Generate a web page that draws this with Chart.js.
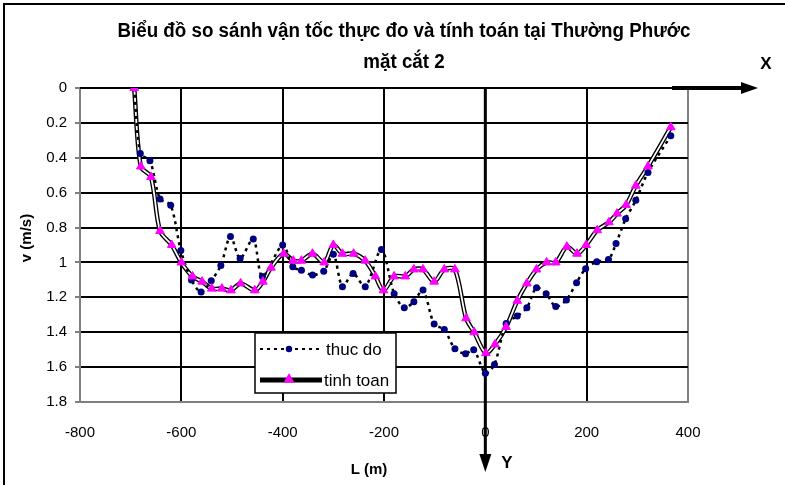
<!DOCTYPE html>
<html>
<head>
<meta charset="utf-8">
<script src="https://cdn.jsdelivr.net/npm/chart.js@4.4.1/dist/chart.umd.min.js"></script>
<style>
  html, body { margin: 0; padding: 0; background: #fff; }
  #wrap { width: 785px; height: 485px; position: relative; }
</style>
</head>
<body>
<div id="wrap"><canvas id="chart" width="785" height="485"></canvas></div>
<script>
// thuc do (measured)
const measX = [-693, -681, -662, -642, -621, -601, -580, -561, -541, -522, -503, -484, -458, -440,
  -400, -380, -363, -341, -319, -300, -282, -261, -237, -205, -180, -160, -141, -123, -101, -81,
  -60, -39, -23, 0, 18, 41, 63, 82, 101, 120, 139, 160, 180, 198, 220, 243, 258, 277, 297, 321, 366]
const measV = [0, 0.375, 0.417, 0.636, 0.672, 0.931, 1.10, 1.17, 1.105, 1.017, 0.851, 0.977, 0.865, 1.08,
  0.90, 1.025, 1.045, 1.072, 1.05, 0.953, 1.139, 1.063, 1.139, 0.926, 1.179, 1.26, 1.225, 1.158, 1.353, 1.385,
  1.495, 1.523, 1.50, 1.635, 1.585, 1.35, 1.307, 1.26, 1.145, 1.18, 1.253, 1.215, 1.116, 1.036, 0.996, 0.983, 0.891, 0.75, 0.644, 0.484, 0.274]

// tinh toan (computed)
const calcX = [-693, -680, -660, -642, -619, -600, -578, -559, -540, -520, -502, -483, -455, -439, -423,
  -398, -379, -363, -341, -318, -300, -282, -260, -237, -217, -201, -180, -158, -141, -123, -101, -81,
  -60, -38, -22, 1, 19, 41, 63, 82, 101, 121, 139, 161, 181, 199, 221, 244, 260, 278, 297, 321, 366]
const calcV = [0, 0.45, 0.51, 0.82, 0.90, 1.00, 1.08, 1.11, 1.15, 1.15, 1.16, 1.12, 1.16, 1.11, 1.03,
  0.95, 0.99, 0.99, 0.95, 1.00, 0.90, 0.95, 0.95, 0.99, 1.08, 1.16, 1.08, 1.08, 1.04, 1.04, 1.11, 1.04,
  1.04, 1.32, 1.40, 1.52, 1.47, 1.37, 1.22, 1.12, 1.04, 1.00, 1.00, 0.91, 0.95, 0.90, 0.815, 0.77, 0.72, 0.67, 0.56, 0.45, 0.225]

const xTicks = [-800, -600, -400, -200, 0, 200, 400]
const yTicks = [0, 0.2, 0.4, 0.6, 0.8, 1, 1.2, 1.4, 1.6, 1.8]

const TITLE1 = 'Biểu đồ so sánh vận tốc thực đo và tính toán tại Thường Phước'
const TITLE2 = 'mặt cắt 2'
const ARIAL = '"Liberation Sans", Arial, sans-serif'

const pts = (xs, ys) => xs.map((x, i) => ({x: x, y: ys[i]}))

function triangle(ctx, x, y, r){
    ctx.beginPath()
    ctx.moveTo(x, y - r)
    ctx.lineTo(x + r * 0.9, y + r * 0.6)
    ctx.lineTo(x - r * 0.9, y + r * 0.6)
    ctx.closePath()
    ctx.fill()
}

// squeezed bold text, to look like the narrow title font
function narrowText(ctx, text, cx, cy, size, sx){
    ctx.save()
    ctx.font = 'bold ' + size + 'px ' + ARIAL
    ctx.translate(cx, cy)
    ctx.scale(sx, 1)
    ctx.fillText(text, 0, 0)
    ctx.restore()
}

const decorations = {
    id: 'decorations',
    beforeDatasetsDraw(chart){
        const ctx = chart.ctx
        const a = chart.chartArea
        const x0 = chart.scales.x.getPixelForValue(0)
        ctx.save()
        ctx.strokeStyle = '#000'
        ctx.fillStyle = '#000'
        // X arrow along the top
        ctx.lineWidth = 2
        ctx.beginPath(); ctx.moveTo(a.left, a.top); ctx.lineTo(745, a.top); ctx.stroke()
        ctx.lineWidth = 4
        ctx.beginPath(); ctx.moveTo(672, a.top); ctx.lineTo(745, a.top); ctx.stroke()
        ctx.beginPath(); ctx.moveTo(758, a.top); ctx.lineTo(741, a.top - 6); ctx.lineTo(741, a.top + 6); ctx.closePath(); ctx.fill()
        // Y arrow down at L = 0
        ctx.lineWidth = 3
        ctx.beginPath(); ctx.moveTo(x0, a.top); ctx.lineTo(x0, 458); ctx.stroke()
        ctx.beginPath(); ctx.moveTo(x0, 472); ctx.lineTo(x0 - 6, 454); ctx.lineTo(x0 + 6, 454); ctx.closePath(); ctx.fill()
        ctx.restore()
    },
    afterDraw(chart){
        const ctx = chart.ctx
        ctx.save()
        // frame (left and top)
        ctx.strokeStyle = '#000'
        ctx.lineWidth = 2
        ctx.beginPath(); ctx.moveTo(4, 485); ctx.lineTo(4, 4); ctx.lineTo(785, 4); ctx.stroke()

        ctx.fillStyle = '#000'
        ctx.textAlign = 'center'
        ctx.textBaseline = 'middle'
        ctx.font = 'bold 20px ' + ARIAL
        const sx = 573 / ctx.measureText(TITLE1).width
        narrowText(ctx, TITLE1, 404, 31, 20, sx)
        narrowText(ctx, TITLE2, 404, 62, 20, sx)
        ctx.font = 'bold 17px ' + ARIAL
        ctx.fillText('X', 766, 64)
        ctx.fillText('Y', 507, 463)
        ctx.font = 'bold 15px ' + ARIAL
        ctx.fillText('L (m)', 369, 470)
        ctx.save()
        ctx.translate(27, 238)
        ctx.rotate(-Math.PI / 2)
        ctx.fillText('v (m/s)', 0, 0)
        ctx.restore()

        // legend
        ctx.fillStyle = '#fff'
        ctx.fillRect(255, 333, 141, 60)
        ctx.strokeStyle = '#000'
        ctx.lineWidth = 1.5
        ctx.strokeRect(255, 333, 141, 60)
        ctx.lineWidth = 2
        ctx.setLineDash([3, 4])
        ctx.beginPath(); ctx.moveTo(260, 349); ctx.lineTo(322, 349); ctx.stroke()
        ctx.setLineDash([])
        ctx.fillStyle = '#000080'
        ctx.beginPath(); ctx.arc(289, 349, 3.2, 0, Math.PI * 2); ctx.fill()
        ctx.lineWidth = 5
        ctx.beginPath(); ctx.moveTo(260, 380); ctx.lineTo(322, 380); ctx.stroke()
        ctx.fillStyle = '#ff00ff'
        triangle(ctx, 289, 379, 6)
        ctx.fillStyle = '#000'
        ctx.textAlign = 'left'
        ctx.font = '17px ' + ARIAL
        ctx.fillText('thuc do', 326, 350)
        ctx.save()
        ctx.beginPath(); ctx.rect(255, 333, 141, 60); ctx.clip()
        ctx.fillText('tinh toan', 324, 381)
        ctx.restore()
        ctx.restore()
    }
}

const ctx = document.getElementById('chart').getContext('2d')
new Chart(ctx, {
    type: 'scatter',
    data: {
        datasets: [
            {
                label: 'tinh toan',
                data: pts(calcX, calcV),
                showLine: false,
                pointStyle: 'triangle',
                pointRadius: 5,
                pointBackgroundColor: '#ff00ff',
                pointBorderColor: '#ff00ff',
                pointBorderWidth: 1,
                order: 0
            },
            {
                label: 'thuc do',
                data: pts(measX, measV),
                showLine: true,
                borderColor: '#000',
                borderWidth: 2.5,
                borderDash: [3, 4],
                tension: 0.3,
                pointRadius: 3.5,
                pointBackgroundColor: '#000080',
                pointBorderColor: '#000080',
                pointBorderWidth: 0,
                order: 1
            },
            {
                label: 'tinh toan core',
                data: pts(calcX, calcV),
                showLine: true,
                borderColor: '#fff',
                borderWidth: 1.8,
                tension: 0.3,
                pointRadius: 0,
                order: 2
            },
            {
                label: 'tinh toan line',
                data: pts(calcX, calcV),
                showLine: true,
                borderColor: '#000',
                borderWidth: 4.5,
                tension: 0.3,
                pointRadius: 0,
                order: 3
            }
        ]
    },
    options: {
        responsive: false,
        animation: false,
        layout: {padding: {left: 0, right: 97, top: 88, bottom: 0}},
        plugins: {
            legend: {display: false},
            tooltip: {enabled: false}
        },
        scales: {
            x: {
                type: 'linear',
                min: -800,
                max: 400,
                afterBuildTicks: s => { s.ticks = xTicks.map(v => ({value: v})) },
                afterFit: s => { s.height = 83 },
                grid: {
                    color: c => c.tick && c.tick.value === 400 ? '#808080' : '#000',
                    lineWidth: 2,
                    drawTicks: false
                },
                border: {color: '#808080', width: 2},
                ticks: {
                    padding: 22,
                    color: '#000',
                    font: {family: ARIAL, size: 15},
                    callback: v => String(v)
                }
            },
            y: {
                reverse: true,
                min: 0,
                max: 1.8,
                afterBuildTicks: s => { s.ticks = yTicks.map(v => ({value: v})) },
                afterFit: s => { s.width = 80 },
                grid: {
                    color: c => c.tick && c.tick.value === 1.8 ? '#808080' : '#000',
                    lineWidth: 2,
                    tickLength: 5,
                    tickColor: '#808080'
                },
                border: {color: '#808080', width: 2},
                ticks: {
                    padding: 8,
                    color: '#000',
                    font: {family: ARIAL, size: 15},
                    callback: v => String(+v.toFixed(1))
                }
            }
        }
    },
    plugins: [decorations]
})
</script>
</body>
</html>
